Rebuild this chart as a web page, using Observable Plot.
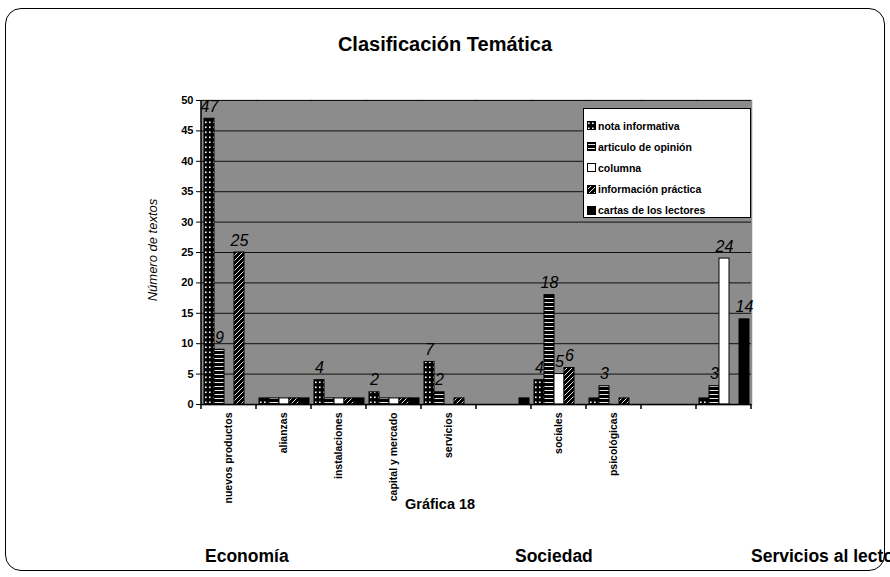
<!DOCTYPE html>
<html>
<head>
<meta charset="utf-8">
<script src="https://cdn.jsdelivr.net/npm/d3@7"></script>
<script src="https://cdn.jsdelivr.net/npm/@observablehq/plot@0.6"></script>
<style>
  html, body { margin: 0; padding: 0; background: #fff; }
  body { font-family: "Liberation Sans", Arial, sans-serif; }
  #wrap { position: relative; width: 890px; height: 577px; overflow: hidden; background: #fff; }
  #border { position: absolute; left: 5px; top: 8px; width: 880px; height: 563px; border: 1.5px solid #000; border-radius: 16px; box-sizing: border-box; }
  #chart { position: absolute; left: 0; top: 0; }
  .txt { position: absolute; font-weight: bold; color: #000; white-space: nowrap; }
  #title { left: 0; width: 890px; text-align: center; top: 33px; font-size: 20px; }
  #caption { left: 405px; top: 496px; font-size: 14.5px; }
  .group { top: 546px; font-size: 17.5px; }
  #legend { position: absolute; left: 583px; top: 108px; width: 168px; height: 110px; background: #fff; border: 1px solid #000; box-sizing: border-box; padding: 6px 0 0 3px; }
  .row { display: flex; align-items: center; height: 21.2px; font-size: 10.5px; font-weight: bold; }
  .row svg { margin-right: 2px; }
  #ylabel { position: absolute; left: 152px; top: 250px; transform: translate(-50%, -50%) rotate(-90deg); font-style: italic; font-size: 13px; white-space: nowrap; }
</style>
</head>
<body>
<svg width="0" height="0" style="position:absolute">
  <defs>
    <pattern id="pNota" width="4" height="5" patternUnits="userSpaceOnUse">
      <rect width="4" height="5" fill="#000"/><rect x="1" y="1.5" width="1.6" height="1.6" fill="#fff"/>
    </pattern>
    <pattern id="pArt" width="4" height="4" patternUnits="userSpaceOnUse">
      <rect width="4" height="4" fill="#000"/><rect x="0" y="2" width="4" height="0.9" fill="#fff"/>
    </pattern>
    <pattern id="pCol" width="4" height="4" patternUnits="userSpaceOnUse">
      <rect width="4" height="4" fill="#fff"/>
    </pattern>
    <pattern id="pInfo" width="5" height="5" patternUnits="userSpaceOnUse">
      <rect width="5" height="5" fill="#000"/><path d="M0,5 L5,0" stroke="#fff" stroke-width="0.9"/>
    </pattern>
    <pattern id="pCart" width="4" height="4" patternUnits="userSpaceOnUse">
      <rect width="4" height="4" fill="#000"/>
    </pattern>
  </defs>
</svg>
<div id="wrap">
  <div id="border"></div>
  <div id="chart"></div>
  <div id="title" class="txt"></div>
  <div id="ylabel"></div>
  <div id="caption" class="txt"></div>
  <div id="legend"></div>
</div>
<script>
// ---- data ----
const title = "Clasificación Temática";
const yAxisLabel = "Número de textos";
const caption = "Gráfica 18";
const categoryLabels = ["nuevos productos", "alianzas", "instalaciones", "capital y mercado", "servicios", "", "sociales", "psicológicas", "", ""];
const series = ["nota informativa", "articulo de opinión", "columna", "información práctica", "cartas de los lectores"];
const notaInformativa    = [47, 1, 4, 2, 7, 0, 4, 1, 0, 1];
const articuloOpinion    = [9, 1, 1, 1, 2, 0, 18, 3, 0, 3];
const columna            = [0, 1, 1, 1, 0, 0, 5, 0, 0, 24];
const informacionPractica= [25, 1, 1, 1, 1, 0, 6, 1, 0, 0];
const cartasLectores     = [0, 1, 1, 1, 0, 1, 0, 0, 0, 14];
const yTicks = [0, 5, 10, 15, 20, 25, 30, 35, 40, 45, 50];
const groupLabels = ["Economía", "Sociedad", "Servicios al lector"];
const groupLeft = [205, 515, 751];

// ---- build table ----
const seriesValues = [notaInformativa, articuloOpinion, columna, informacionPractica, cartasLectores];
const patterns = ["url(#pNota)", "url(#pArt)", "url(#pCol)", "url(#pInfo)", "url(#pCart)"];
const rows = [];
categoryLabels.forEach((c, i) => {
  series.forEach((s, j) => rows.push({cat: i, series: s, value: seriesValues[j][i]}));
});

const chart = Plot.plot({
  width: 890,
  height: 577,
  marginLeft: 201,
  marginRight: 139,
  marginTop: 100,
  marginBottom: 173,
  style: {fontFamily: "'Liberation Sans', Arial, sans-serif", background: "transparent", color: "#000"},
  fx: {domain: d3.range(categoryLabels.length), padding: 0, label: null},
  x: {domain: series, paddingInner: 0, paddingOuter: 0.12, axis: null},
  y: {domain: [0, 50], label: null},
  color: {domain: series, range: patterns},
  marks: [
    Plot.frame({fill: "#8c8c8c", stroke: "#8c8c8c", strokeWidth: 1.5}),
    Plot.gridY(yTicks, {stroke: "#111", strokeOpacity: 1, strokeWidth: 1}),
    Plot.barY(rows, {fx: "cat", x: "series", y: "value", fill: "series", stroke: "#000", strokeWidth: 1}),
    Plot.text(rows.filter(d => d.value >= 2), {
      fx: "cat", x: "series", y: "value", text: d => String(d.value),
      dy: -7, lineAnchor: "bottom", fontStyle: "italic", fontSize: 16, fill: "#000"
    }),
    Plot.ruleY([0], {stroke: "#000", strokeWidth: 1.5}),
    Plot.axisY(yTicks, {tickSize: 5, tickPadding: 3, fontSize: 11, fontWeight: "bold", stroke: "#000", label: null}),
    Plot.axisFx({anchor: "bottom", tickSize: 0, tickPadding: 8, tickRotate: -90, fontSize: 10.5, fontWeight: "bold",
      tickFormat: i => categoryLabels[i], label: null})
  ]
});
document.getElementById("chart").appendChild(chart);

// left axis line and category boundary ticks from the fx / y scales
const fx = chart.scale("fx"), ys = chart.scale("y");
const svg = d3.select(chart);
const y0 = ys.apply(0), y50 = ys.apply(50);
const x0 = fx.apply(0);
svg.append("line").attr("x1", x0).attr("x2", x0).attr("y1", y50).attr("y2", y0).attr("stroke", "#000").attr("stroke-width", 1.5);
const bounds = categoryLabels.map((c, i) => fx.apply(i)).concat([fx.apply(categoryLabels.length - 1) + fx.bandwidth]);
svg.append("g").selectAll("line").data(bounds).join("line")
  .attr("x1", d => d).attr("x2", d => d).attr("y1", y0).attr("y2", y0 + 5)
  .attr("stroke", "#000").attr("stroke-width", 1.5);

// texts
document.getElementById("title").textContent = title;
document.getElementById("ylabel").textContent = yAxisLabel;
document.getElementById("caption").textContent = caption;
const wrap = document.getElementById("wrap");
groupLabels.forEach((g, i) => {
  const d = document.createElement("div");
  d.className = "txt group";
  d.style.left = groupLeft[i] + "px";
  d.textContent = g;
  wrap.appendChild(d);
});

// legend
const legend = document.getElementById("legend");
series.forEach((s, j) => {
  const r = document.createElement("div");
  r.className = "row";
  r.innerHTML = `<svg width="9" height="9"><rect x="0.5" y="0.5" width="8" height="8" fill="${patterns[j]}" stroke="#000"/></svg><span></span>`;
  r.querySelector("span").textContent = s;
  legend.appendChild(r);
});
</script>
</body>
</html>
